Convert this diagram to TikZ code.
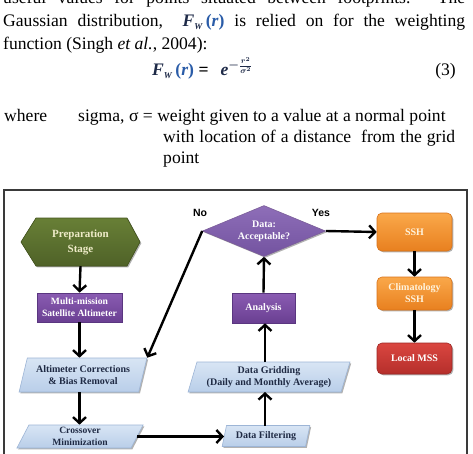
\documentclass[tikz,border=0pt]{standalone}
\usepackage{amsmath}
\usepackage{fontspec}
\setmainfont{Liberation Serif}
\newfontfamily\arialfont{Liberation Sans}
\usetikzlibrary{shapes.geometric,arrows.meta,shadows}
\definecolor{eqnavy}{HTML}{1E2A48}
\definecolor{eqblue}{HTML}{2A5CA8}
\definecolor{framecol}{HTML}{3A3A3A}
\definecolor{hextop}{HTML}{687F36}
\definecolor{hexbot}{HTML}{4F6228}
\definecolor{hexedge}{HTML}{45561F}
\definecolor{hextext}{HTML}{EEEBC8}
\definecolor{purptop}{HTML}{8A5CB2}
\definecolor{purpbot}{HTML}{6A3F92}
\definecolor{purpedge}{HTML}{5A3680}
\definecolor{diamtop}{HTML}{8E6EB8}
\definecolor{diambot}{HTML}{7353A0}
\definecolor{lbluetop}{HTML}{D8E5F4}
\definecolor{lbluebot}{HTML}{B9CEE9}
\definecolor{lblueedge}{HTML}{9DB5D6}
\definecolor{navytext}{HTML}{1F2A44}
\definecolor{orngtop}{HTML}{FAA84A}
\definecolor{orngbot}{HTML}{E8801F}
\definecolor{orngedge}{HTML}{D9731A}
\definecolor{orngtext}{HTML}{FFF4DE}
\definecolor{redtop}{HTML}{DA4640}
\definecolor{redbot}{HTML}{B52F2B}
\definecolor{rededge}{HTML}{9E2724}
\newcommand\FWsym{{\color{eqnavy}\textbf{\textit{F}}}\raisebox{-3pt}{\fontsize{9}{9}\selectfont\color{eqnavy}\textbf{\textit{W}}}\,{\color{eqblue}\textbf{(\textit{r})}}}
\begin{document}
\begin{tikzpicture}[x=1pt,y=-1pt,
  bodytext/.style={inner sep=0pt, anchor=base west, font=\fontsize{17.6}{23}\selectfont},
  arr/.style={line width=2.4pt, -{Straight Barb[length=6pt,width=13pt]}},
  shad/.style={drop shadow={shadow xshift=1.3pt,shadow yshift=-1.3pt,opacity=0.3,fill=black}},
  boxtext/.style={font=\fontsize{10}{12}\selectfont\bfseries, align=center, inner sep=0pt},
  purpbox/.style={boxtext, shad, draw=purpedge, line width=0.6pt, top color=purptop, bottom color=purpbot, text=white},
  para/.style={boxtext, shad, trapezium, trapezium left angle=70, trapezium right angle=110, trapezium stretches=true, draw=lblueedge, line width=0.6pt, top color=lbluetop, bottom color=lbluebot, text=navytext},
  obox/.style={boxtext, shad, rounded corners=5pt, draw=orngedge, line width=0.6pt, top color=orngtop, bottom color=orngbot, text=orngtext, minimum width=75pt},
  lab/.style={font=\arialfont\bfseries\fontsize{10.5}{12}\selectfont, inner sep=0pt}
]
\useasboundingbox (0,0) rectangle (473,454);
\fill[white] (0,0) rectangle (473,454);

% ---- text of the page ----
\node[bodytext] (l1) at (3,4) {\makebox[462pt][s]{useful values for points situated between footprints. The}};
\node[bodytext] (l2) at (3,27) {\makebox[462pt][s]{Gaussian distribution,\ \ \FWsym\ is relied on for the weighting}};
\node[bodytext] (l3) at (3,50) {function (Singh \textit{et al.}, 2004):};
\node[bodytext] (eq) at (152,76) {\FWsym\ \textbf{=}\hspace{12pt}{\color{eqnavy}\textbf{\textit{e}}}\raisebox{7pt}{\fontsize{12}{12}\selectfont\color{eqnavy}$\boldsymbol{-\frac{r^{2}}{\sigma^{2}}}$}};
\node[bodytext, anchor=base east] (eqno) at (456,76) {(3)};
\node[bodytext] (wh) at (4,122) {where};
\node[bodytext] (l5) at (78,122) {sigma, σ = weight given to a value at a normal point};
\node[bodytext] (l6) at (163,143) {\makebox[292pt][s]{with location of a distance\ \ from the grid}};
\node[bodytext] (l7) at (163,164) {point};

% ---- frame ----
\draw[line width=1.5pt, framecol] (4,190) rectangle (467,470);

% ---- hexagon ----
\filldraw[shad, draw=hexedge, line width=0.6pt, top color=hextop, bottom color=hexbot]
  (21,242) -- (36,218) -- (127,218) -- (140,242) -- (127,266) -- (36,266) -- cycle;
\node[boxtext, font=\fontsize{11}{15}\selectfont\bfseries, text=hextext, minimum width=119pt, minimum height=48pt] (prep) at (80.5,242) {Preparation\\Stage};

% ---- left column ----
\node[purpbox, minimum width=85pt, minimum height=29pt, font=\fontsize{9.6}{12}\selectfont\bfseries] (multi) at (79.5,307.5) {Multi-mission\\Satellite Altimeter};
\node[para, minimum width=128pt, minimum height=34pt] (alt) at (83,375) {Altimeter Corrections\\\& Bias Removal};
\node[para, minimum width=127pt, minimum height=23pt, font=\fontsize{9.6}{11.5}\selectfont\bfseries] (cross) at (80,436.5) {Crossover\\Minimization};

% ---- middle column ----
\node[para, minimum width=88pt, minimum height=21pt] (filt) at (266,436) {Data Filtering};
\node[para, minimum width=162pt, minimum height=30pt] (grid) at (269,377) {Data Gridding\\(Daily and Monthly\ Average)};
\node[purpbox, minimum width=63pt, minimum height=30pt] (ana) at (263.5,308) {Analysis};
\node[boxtext, shad, diamond, aspect=2.41, minimum width=123pt, minimum height=51pt, draw=purpedge!80, line width=0.6pt, top color=diamtop, bottom color=diambot, text=white] (diam) at (264,231) {Data:\\Acceptable?};
\node[lab] (no) at (200,213) {No};
\node[lab] (yes) at (321,213) {Yes};

% ---- right column ----
\node[obox, minimum height=38pt] (ssh) at (414.5,232) {SSH};
\node[obox, minimum height=33pt] (clim) at (414.5,293.5) {Climatology\\SSH};
\node[boxtext, shad, rounded corners=5pt, draw=rededge, line width=0.6pt, top color=redtop, bottom color=redbot, text=white, minimum width=75pt, minimum height=31pt] (mss) at (414.5,358.5) {Local MSS};

% ---- connectors ----
\draw[arr] (prep.south) -- (multi.north);
\draw[arr] (multi.south) -- (multi.south |- alt.north);
\draw[arr] (multi.south |- alt.south) -- (multi.south |- cross.north);
\draw[arr] (cross.east) -- (cross.east -| filt.west);
\draw[arr] (265,425.5) -- (265,392);
\draw[arr] (265,362) -- (ana.south -| 265,0);
\draw[arr] (ana.north) -- (diam.south);
\draw[arr] (diam.east) -- (ssh.west);
\draw[arr] (diam.west) -- (alt.top right corner);
\draw[arr] (ssh.south) -- (clim.north);
\draw[arr] (clim.south) -- (mss.north);
\end{tikzpicture}
\end{document}
